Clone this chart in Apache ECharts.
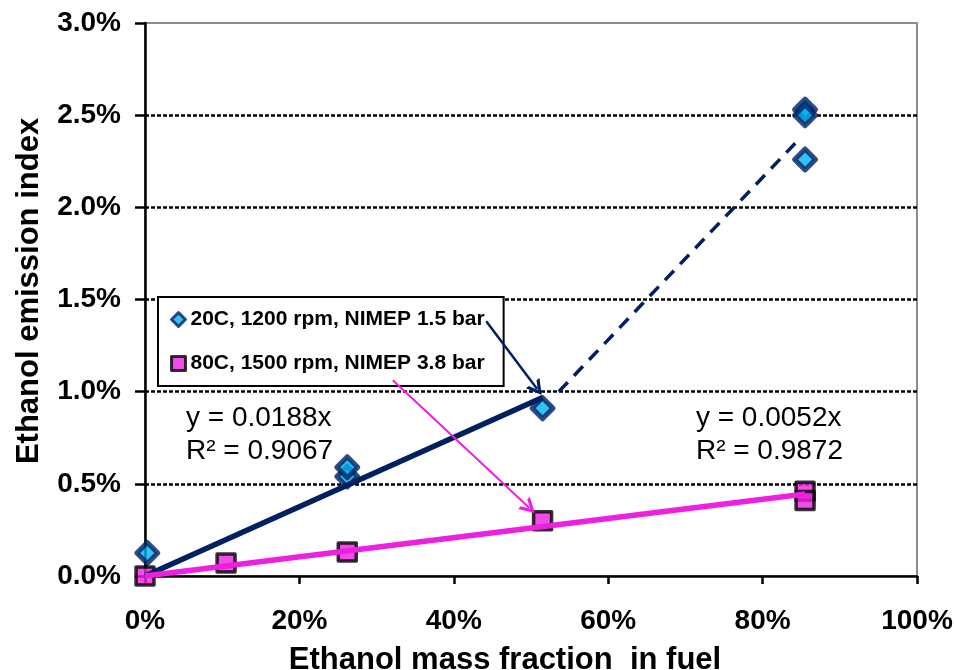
<!DOCTYPE html>
<html>
<head>
<meta charset="utf-8">
<script src="https://cdn.jsdelivr.net/npm/echarts@6/dist/echarts.min.js"></script>
<style>
  html, body { margin: 0; padding: 0; background: #ffffff; }
  #chart { width: 954px; height: 670px; }
</style>
</head>
<body>
<div id="chart"></div>
<script>
// Ethanol emission index vs ethanol mass fraction in fuel
const xTicks = [0, 0.2, 0.4, 0.6, 0.8, 1.0];
const yTicks = [0, 0.005, 0.01, 0.015, 0.02, 0.025, 0.03];

const coldName = '20C, 1200 rpm, NIMEP 1.5 bar';
const coldX = [0.003, 0.262, 0.262, 0.515, 0.855, 0.855, 0.855];
const coldY = [0.00125, 0.0054, 0.0059, 0.0091, 0.0253, 0.0250, 0.0226];

const warmName = '80C, 1500 rpm, NIMEP 3.8 bar';
const warmX = [0.0, 0.105, 0.262, 0.515, 0.855, 0.855];
const warmY = [0.0, 0.0007, 0.0013, 0.0030, 0.0046, 0.0041];

// linear fits through the origin
const coldSlope = 0.0188, coldR2 = 0.9067, coldFitEnd = 0.515;
const warmSlope = 0.0052, warmR2 = 0.9872, warmFitEnd = 0.855;

// dashed guide from the end of the cold fit to the high-ethanol points
const coldGuideX = [0.536, 0.845];
const coldGuideY = [0.0100, 0.0236];

// pointer arrows from the legend entries to the series
const coldArrowX = [0.442, 0.508];
const coldArrowY = [0.01382, 0.01014];
const warmArrowX = [0.321, 0.498];
const warmArrowY = [0.01062, 0.00369];

const NAVY = '#002060';
const SKY = '#00B0F0';
const MAGENTA = '#EE1FE0';
const FONT = "'Liberation Sans', Arial, sans-serif";

const pairs = (xs, ys) => xs.map((x, i) => [x, ys[i]]);
// open arrow head, tip pointing up before rotation
const chevron = 'path://M0,10 L5,0 L10,10 L7.8,10 L5,4.2 L2.2,10 Z';

const chart = echarts.init(document.getElementById('chart'), null, { renderer: 'canvas' });

chart.setOption({
  backgroundColor: '#ffffff',
  animation: false,
  textStyle: { fontFamily: FONT },
  grid: {
    left: 145, right: 37, top: 23, bottom: 94,
    containLabel: false, outerBoundsMode: 'none',
    show: true, borderColor: '#8c8c8c', borderWidth: 2, backgroundColor: 'transparent'
  },
  legend: {
    data: [
      { name: coldName, icon: 'diamond' },
      { name: warmName, icon: 'rect' }
    ],
    orient: 'vertical',
    left: 158, top: 297,
    padding: [12, 19, 12, 12],
    itemGap: 23,
    itemWidth: 14, itemHeight: 14,
    backgroundColor: '#ffffff',
    borderColor: '#000000', borderWidth: 2,
    itemStyle: { borderWidth: 3 },
    textStyle: { fontFamily: FONT, fontWeight: 'bold', fontSize: 21, color: '#000' }
  },
  xAxis: {
    type: 'value',
    min: xTicks[0], max: xTicks[xTicks.length - 1], interval: 0.2,
    name: 'Ethanol mass fraction  in fuel',
    nameLocation: 'middle', nameGap: 69,
    nameTextStyle: {
      fontFamily: FONT, fontWeight: 'bold', fontSize: 31, color: '#000',
      padding: [0, 52, 0, 0]
    },
    axisLine: { show: true, onZero: false, lineStyle: { color: '#000', width: 2.5 } },
    axisTick: { show: true, inside: false, length: 8, lineStyle: { color: '#000', width: 2.5 } },
    axisLabel: {
      margin: 31, fontFamily: FONT, fontWeight: 'bold', fontSize: 28, color: '#000',
      formatter: v => Math.round(v * 100) + '%'
    },
    splitLine: { show: false }
  },
  yAxis: {
    type: 'value',
    min: yTicks[0], max: yTicks[yTicks.length - 1], interval: 0.005,
    name: 'Ethanol emission index',
    nameLocation: 'middle', nameGap: 100, nameRotate: 90,
    nameTextStyle: {
      fontFamily: FONT, fontWeight: 'bold', fontSize: 31, color: '#000',
      padding: [0, 0, 0, 17]
    },
    axisLine: { show: true, onZero: false, lineStyle: { color: '#000', width: 2.5 } },
    axisTick: { show: true, inside: false, length: 10, lineStyle: { color: '#000', width: 2.5 } },
    axisLabel: {
      margin: 24, fontFamily: FONT, fontWeight: 'bold', fontSize: 28, color: '#000',
      formatter: v => (v * 100).toFixed(1) + '%'
    },
    splitLine: {
      show: true, showMinLine: false, showMaxLine: false,
      lineStyle: { color: '#000', width: 2.5, type: [4, 2] }
    }
  },
  series: [
    {
      name: coldName, type: 'scatter', z: 3,
      symbol: 'diamond', symbolSize: 21,
      itemStyle: { color: SKY, borderColor: NAVY, borderWidth: 5, borderJoin: 'round' },
      data: pairs(coldX, coldY)
    },
    {
      name: warmName, type: 'scatter', z: 3,
      symbol: 'rect', symbolSize: 18,
      itemStyle: { color: MAGENTA, borderColor: '#000', borderWidth: 3.5, borderJoin: 'round' },
      data: pairs(warmX, warmY)
    },
    {
      name: 'cold fit', type: 'line', z: 4, silent: true, showSymbol: false, symbol: 'none',
      lineStyle: { color: NAVY, width: 5.5 },
      data: [[0, 0], [coldFitEnd, coldSlope * coldFitEnd]]
    },
    {
      name: 'warm fit', type: 'line', z: 4, silent: true, showSymbol: false, symbol: 'none',
      lineStyle: { color: MAGENTA, width: 5.5 },
      data: [[0, 0], [warmFitEnd, warmSlope * warmFitEnd]]
    },
    {
      name: 'cold guide', type: 'line', z: 4, silent: true, showSymbol: false, symbol: 'none',
      lineStyle: { color: NAVY, width: 3.5, type: [13, 9] },
      data: pairs(coldGuideX, coldGuideY)
    },
    {
      name: 'pointers', type: 'line', z: 6, silent: true, data: [],
      markLine: {
        silent: true, animation: false,
        symbol: ['none', chevron], symbolSize: [17, 15],
        label: { show: false },
        emphasis: { disabled: true },
        data: [
          [
            { coord: [coldArrowX[0], coldArrowY[0]], lineStyle: { color: NAVY, width: 2.5, type: 'solid' } },
            { coord: [coldArrowX[1], coldArrowY[1]] }
          ],
          [
            { coord: [warmArrowX[0], warmArrowY[0]], lineStyle: { color: MAGENTA, width: 2, type: 'solid' } },
            { coord: [warmArrowX[1], warmArrowY[1]] }
          ]
        ]
      }
    }
  ],
  graphic: [
    {
      type: 'text', left: 186, top: 402, z: 10,
      style: {
        text: 'y = ' + coldSlope + 'x\nR² = ' + coldR2,
        font: "28px 'Liberation Sans', Arial, sans-serif",
        lineHeight: 33, fill: '#000'
      }
    },
    {
      type: 'text', right: 111, top: 402, z: 10,
      style: {
        text: 'y = ' + warmSlope + 'x\nR² = ' + warmR2,
        font: "28px 'Liberation Sans', Arial, sans-serif",
        lineHeight: 33, fill: '#000', align: 'left'
      }
    }
  ]
});
</script>
</body>
</html>
